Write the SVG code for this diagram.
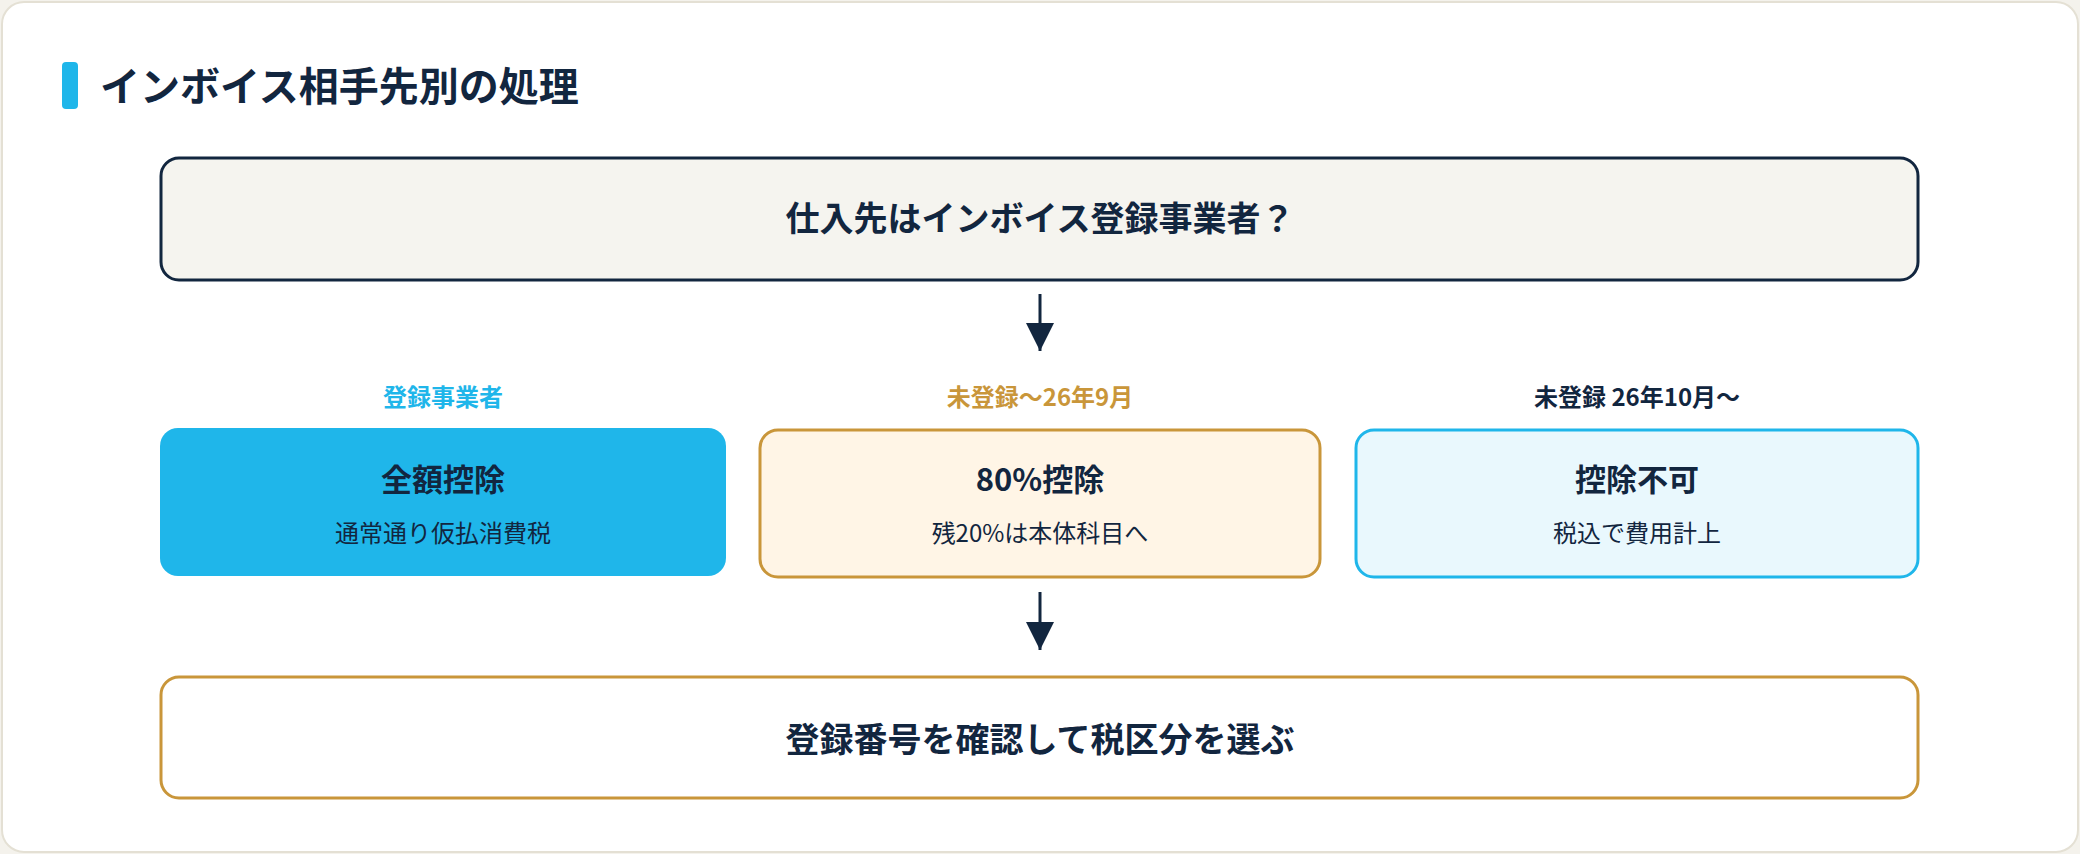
<svg xmlns="http://www.w3.org/2000/svg" width="2080" height="854" viewBox="0 0 2080 854">
<style>
text{font-family:"Noto Sans CJK JP","Noto Sans",sans-serif;text-anchor:middle;fill:#12263f}
.b{font-weight:700}
.t{font-size:34px;font-weight:700}
.s{font-size:24px}
.l{font-size:24px;font-weight:700}
.ar{stroke:#12263f;stroke-width:3;fill:none}
</style>
<defs><marker id="ah" markerWidth="10" markerHeight="10" refX="9" refY="5" orient="auto" markerUnits="userSpaceOnUse" viewBox="0 0 10 10"><path d="M0,0L10,5L0,10z" fill="#12263f"/></marker>
<marker id="a" viewBox="0 0 10 10" refX="10" refY="5" markerWidth="28" markerHeight="28" markerUnits="userSpaceOnUse" orient="auto"><path d="M0,0L10,5L0,10z" fill="#12263f"/></marker></defs>
<rect width="2080" height="854" fill="#f4f2ec"/>
<rect x="2" y="2" width="2076" height="850" rx="22" fill="#ffffff" stroke="#e4e0d4" stroke-width="2"/>
<g id="title"><rect x="62" y="62" width="16" height="47" rx="4" fill="#1fb6ea"/><text x="100" y="101" style="text-anchor:start;font-size:40px;font-weight:700">インボイス相手先別の処理</text></g>
<g id="q"><rect x="161" y="158" width="1757" height="122" rx="18" fill="#f5f4ef" stroke="#12263f" stroke-width="3"/><text x="1040" y="231" class="t">仕入先はインボイス登録事業者？</text></g>
<g id="connectors"><line x1="1040" y1="294" x2="1040" y2="351" class="ar" marker-end="url(#a)"/><line x1="1040" y1="592" x2="1040" y2="650" class="ar" marker-end="url(#a)"/></g>
<g id="n1"><text x="443" y="406" class="l" style="fill:#1fb6ea">登録事業者</text><rect x="160" y="428" width="566" height="148" rx="18" fill="#1fb6ea"/><text x="443" y="491" class="b" style="font-size:31px">全額控除</text><text x="443" y="542" class="s">通常通り仮払消費税</text></g>
<g id="n2"><text x="1040" y="406" class="l" style="fill:#c9963a">未登録～26年9月</text><rect x="760" y="430" width="560" height="147" rx="18" fill="#fff5e6" stroke="#c9963a" stroke-width="3"/><text x="1040" y="491" class="b" style="font-size:31px">80%控除</text><text x="1040" y="542" class="s">残20%は本体科目へ</text></g>
<g id="n3"><text x="1637" y="406" class="l">未登録 26年10月～</text><rect x="1356" y="430" width="562" height="147" rx="18" fill="#e9f8fd" stroke="#1fb6ea" stroke-width="3"/><text x="1637" y="491" class="b" style="font-size:31px">控除不可</text><text x="1637" y="542" class="s">税込で費用計上</text></g>
<g id="end"><rect x="161" y="677" width="1757" height="121" rx="18" fill="#ffffff" stroke="#c9963a" stroke-width="3"/><text x="1040" y="752" class="t">登録番号を確認して税区分を選ぶ</text></g>
</svg>
